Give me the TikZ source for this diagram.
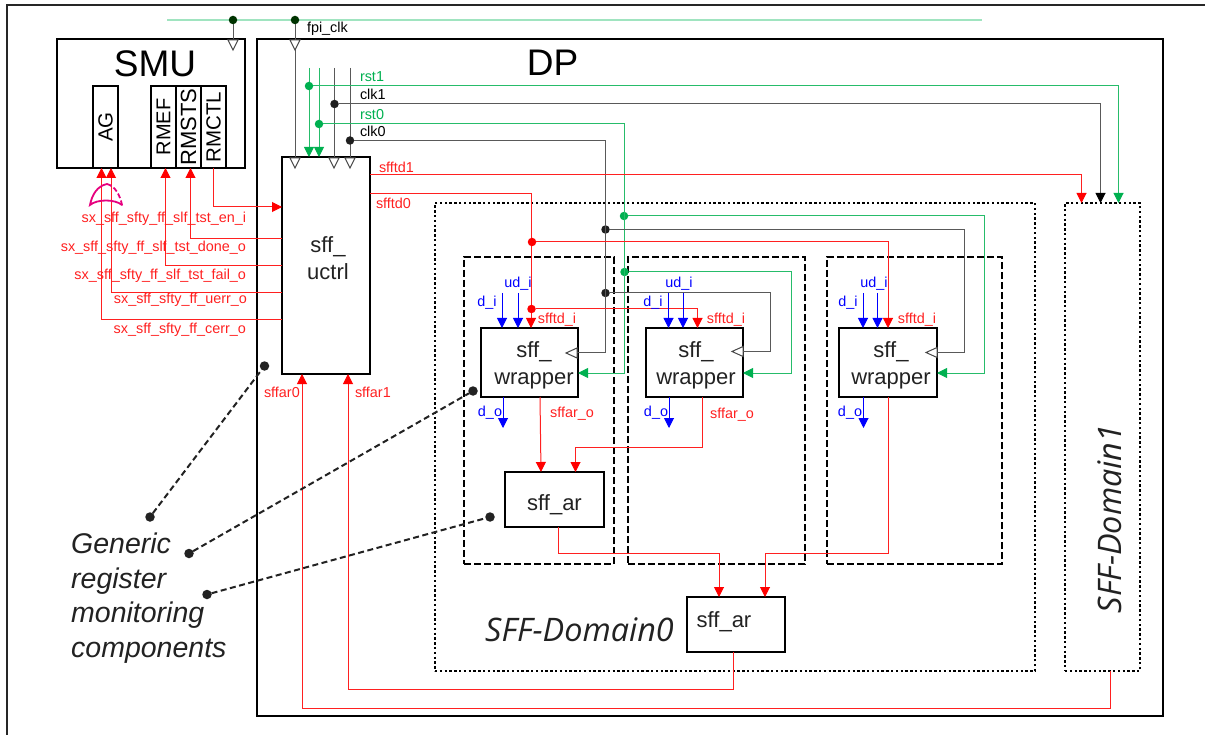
\documentclass[tikz,border=0pt]{standalone}
\usepackage{fontspec}
\setmainfont{Liberation Sans}
\newfontfamily\domfont{Open Sans}
\usetikzlibrary{arrows.meta,calc}
\definecolor{gsig}{HTML}{00B050}
\definecolor{rsig}{HTML}{FF2020}
\definecolor{bsig}{HTML}{0000FF}
\definecolor{fpigreen}{HTML}{A0E4C0}
\definecolor{ored}{HTML}{E6007E}
\definecolor{ink}{HTML}{222222}
\tikzset{
    blk/.style={draw=black,line width=2.5pt,inner sep=0pt,outer sep=0pt},
    sub/.style={draw=black,line width=1.6pt,inner sep=0pt,outer sep=0pt},
    domdot/.style={draw=black,line width=2.4pt,dash pattern=on 2.4pt off 2.4pt,outer sep=0pt},
    domdash/.style={draw=black,line width=2pt,dash pattern=on 7pt off 3pt,outer sep=0pt},
    txt/.style={inner sep=0pt,outer sep=0pt,font=\fontsize{14.4}{16}\selectfont},
    rtxt/.style={txt,text=rsig},
    btxt/.style={txt,text=bsig},
    gtxt/.style={txt,text=gsig},
    ktxt/.style={txt,text=black},
    bigtxt/.style={inner sep=0pt,outer sep=0pt,align=center,text=ink,font=\fontsize{22}{27}\selectfont},
    domtxt/.style={inner sep=0pt,outer sep=0pt,text=ink,font=\domfont\itshape\fontsize{32.4}{36}\selectfont},
    rln/.style={draw=rsig,line width=1pt},
    gln/.style={draw=gsig!85,line width=1pt},
    kln/.style={draw=black!65,line width=1pt},
    rarr/.style={rln,-{Triangle[length=10pt,width=10pt,color=red]}},
    garr/.style={gln,-{Triangle[length=10pt,width=10pt,color=gsig]}},
    karr/.style={kln,-{Triangle[length=10pt,width=10pt,color=black]}},
    barr/.style={draw=bsig,line width=1pt,-{Triangle[length=10pt,width=10pt]}},
    callout/.style={draw=ink,line width=2pt,dash pattern=on 6pt off 3.5pt},
    jn/.style={circle,inner sep=0pt,outer sep=0pt,minimum size=8.5pt},
    gdot/.style={jn,fill=gsig},
    kdot/.style={jn,fill=black!88},
    rdot/.style={jn,fill=red},
    cdot/.style={jn,minimum size=9.5pt,fill=ink},
    fpidot/.style={jn,fill=black!80!green},
    clkdown/.pic={\draw[draw=black!72,fill=white,line width=1pt] (-5,0) -- (5,0) -- (0,10) -- cycle;},
    clkleft/.pic={\draw[draw=black!72,fill=white,line width=1pt] (0,-5) -- (0,5) -- (-11,0) -- cycle;},
  }
\begin{document}
\begin{tikzpicture}[x=1pt,y=-1pt]
	\useasboundingbox (0,0) rectangle (1205,735);
	%frame
	\coordinate (fbl) at (7,735);
	\coordinate (ftl) at (7,5);
	\coordinate (ftr) at (1205,5);
	\draw[line width=1.6pt,black!85] (fbl) -- (ftl) -- (ftr);
	%blocks
	\node[blk,minimum width=188pt,minimum height=129pt] (smu) at (151,103.5) {};
	\node[blk,minimum width=906pt,minimum height=677pt] (dp) at (710,377.5) {};
	\node[sub,rotate=90,minimum width=82pt,minimum height=25pt,font=\fontsize{20.5}{22}\selectfont] (ag) at (105.5,127) {AG};
	\node[sub,rotate=90,minimum width=82pt,minimum height=25pt,font=\fontsize{20}{22}\selectfont] (rmef) at (163.5,127) {RMEF};
	\node[sub,rotate=90,minimum width=82pt,minimum height=25pt,font=\fontsize{22}{22}\selectfont] (rmsts) at (188.5,127) {RMSTS};
	\node[sub,rotate=90,minimum width=82pt,minimum height=25pt,font=\fontsize{20.5}{22}\selectfont] (rmctl) at (213.5,127) {RMCTL};
	\node[blk,minimum width=88pt,minimum height=217pt] (uctrl) at (326,265.5) {};
	\node[domdot,minimum width=600pt,minimum height=468pt] (dom0) at (735,437) {};
	\node[domdot,minimum width=75pt,minimum height=468pt] (dom1) at (1102.5,437) {};
	\node[domdash,minimum width=150pt,minimum height=307pt] (slice0) at (539,410.5) {};
	\node[domdash,minimum width=177pt,minimum height=307pt] (slice1) at (716.5,410.5) {};
	\node[domdash,minimum width=175pt,minimum height=307pt] (slice2) at (914.5,410.5) {};
	\node[blk,minimum width=97pt,minimum height=69pt] (wrap0) at (529.5,362.5) {};
	\node[blk,minimum width=97pt,minimum height=69pt] (wrap1) at (694.5,362.5) {};
	\node[blk,minimum width=98pt,minimum height=69pt] (wrap2) at (888,362.5) {};
	\node[blk,minimum width=99pt,minimum height=55pt] (ar0) at (554.5,499.5) {};
	\node[blk,minimum width=98pt,minimum height=55pt] (ar1) at (736,624.5) {};
	%block names
	\node[inner sep=0pt,text=black,font=\fontsize{37}{40}\selectfont] (smutxt) at (155,64) {SMU};
	\node[inner sep=0pt,text=black,font=\fontsize{37}{40}\selectfont] (dptxt) at (552.5,63) {DP};
	\node[bigtxt] (uctrltxt) at (328,258) {sff\_\\uctrl};
	\node[bigtxt] (wraptxt0) at (534,365) {sff\_\\wrapper};
	\node[bigtxt] (wraptxt1) at (696,365) {sff\_\\wrapper};
	\node[bigtxt] (wraptxt2) at (891,365) {sff\_\\wrapper};
	\node[bigtxt] (artxt0) at (554.5,505) {sff\_ar};
	\node[bigtxt] (artxt1) at (724,622) {sff\_ar};
	\node[domtxt] (domtxt0) at (579.5,629.7) {SFF-Domain0};
	\node[domtxt,rotate=90] (domtxt1) at (1110,519) {SFF-Domain1};
	\node[inner sep=0pt,text=ink,align=left,anchor=north west,font=\itshape\fontsize{28.5}{34.5}\selectfont] (generic) at (71,533) {Generic\\register\\monitoring\\components};
	%fpi clock
	\coordinate (fpil) at (167,20);
	\coordinate (fpir) at (982,20);
	\draw[draw=fpigreen,line width=2pt] (fpil) -- (fpir);
	\node[fpidot] (fpi0) at (233,20) {};
	\node[fpidot] (fpi1) at (295,20) {};
	\draw[kln] (fpi0) -- (fpi0 |- smu.north);
	\draw[kln] (fpi1) -- (fpi1 |- uctrl.north);
	\pic (tri0) at (233,40) {clkdown};
	\pic (tri1) at (295,40) {clkdown};
	\pic (tri2) at (295,158) {clkdown};
	\pic (tri3) at (334,158) {clkdown};
	\pic (tri4) at (350,158) {clkdown};
	\node[ktxt,anchor=west] (fpitxt) at (307,29) {fpi\_clk};
	%rst and clk
	\coordinate (rst1t) at (309,68);
	\coordinate (rst0t) at (319,68);
	\coordinate (clk1t) at (334,68);
	\coordinate (clk0t) at (350,68);
	\draw[garr] (rst1t) -- (rst1t |- uctrl.north);
	\draw[garr] (rst0t) -- (rst0t |- uctrl.north);
	\draw[kln] (clk1t) -- (clk1t |- uctrl.north);
	\draw[kln] (clk0t) -- (clk0t |- uctrl.north);
	\node[gdot] (rst1) at (309,86) {};
	\node[kdot] (clk1) at (334.5,104) {};
	\node[gdot] (rst0) at (319,124) {};
	\node[kdot] (clk0) at (350,140.5) {};
	\coordinate (rst1e) at (1118.5,203);
	\coordinate (clk1e) at (1100.5,203);
	\draw[garr] (rst1) -| (rst1e);
	\draw[karr] (clk1) -| (clk1e);
	\node[gtxt,anchor=west] (rst1txt) at (360,77) {rst1};
	\node[ktxt,anchor=west] (clk1txt) at (360,94) {clk1};
	\node[gtxt,anchor=west] (rst0txt) at (360,115) {rst0};
	\node[ktxt,anchor=west] (clk0txt) at (360,131) {clk0};
	%branches
	\node[kdot] (clk0a) at (605.5,229.5) {};
	\node[kdot] (clk0b) at (605.5,293) {};
	\node[gdot] (rst0a) at (624,216) {};
	\node[gdot] (rst0b) at (624.5,272) {};
	\coordinate (clk0w) at (577,353);
	\coordinate (rst0w) at (578,373);
	\draw[kln] (clk0) -| (605.5,353) -- (clk0w);
	\draw[garr] (rst0) -| (624.5,373) -- (rst0w);
	\draw[kln] (clk0a) -| (964,352.5) -- (wrap2.east |- 0,352.5);
	\draw[kln] (clk0b) -| (770.5,351.5) -- (wrap1.east |- 0,351.5);
	\draw[garr] (rst0a) -| (984,373) -- (wrap2.east |- 0,373);
	\draw[garr] (rst0b) -| (791,373) -- (wrap1.east |- 0,373);
	\pic (tri5) at (577,353) {clkleft};
	\pic (tri6) at (743,351.5) {clkleft};
	\pic (tri7) at (937,352.5) {clkleft};
	%sfftd
	\coordinate (td1s) at (370,174.5);
	\coordinate (td1e) at (1081.5,203);
	\coordinate (td0s) at (370,193.5);
	\coordinate (td0e) at (531,328);
	\draw[rarr] (td1s) -| (td1e);
	\draw[rarr] (td0s) -| (td0e);
	\node[rtxt,anchor=west] (td1txt) at (379,167) {sfftd1};
	\node[rtxt,anchor=west] (td0txt) at (376,203) {sfftd0};
	\node[rdot] (td0a) at (532,242) {};
	\node[rdot] (td0b) at (531.5,309) {};
	\coordinate (td0w2) at (888,328);
	\coordinate (td0w1) at (697.5,328);
	\draw[rarr] (td0a) -| (td0w2);
	\draw[rarr] (td0b) -| (td0w1);
	%data inputs
	\coordinate (di0) at (502,293);
	\coordinate (ud0) at (518,293);
	\coordinate (di1) at (668.5,293);
	\coordinate (ud1) at (683,293);
	\coordinate (di2) at (863,293);
	\coordinate (ud2) at (877.5,293);
	\draw[barr] (di0) -- (di0 |- wrap0.north);
	\draw[barr] (ud0) -- (ud0 |- wrap0.north);
	\draw[barr] (di1) -- (di1 |- wrap1.north);
	\draw[barr] (ud1) -- (ud1 |- wrap1.north);
	\draw[barr] (di2) -- (di2 |- wrap2.north);
	\draw[barr] (ud2) -- (ud2 |- wrap2.north);
	\coordinate (do0) at (503,428);
	\coordinate (do1) at (669,428);
	\coordinate (do2) at (863.5,428);
	\draw[barr] (do0 |- wrap0.south) -- (do0);
	\draw[barr] (do1 |- wrap1.south) -- (do1);
	\draw[barr] (do2 |- wrap2.south) -- (do2);
	\node[btxt] (ditxt0) at (487,302.5) {d\_i};
	\node[btxt] (udtxt0) at (518,284) {ud\_i};
	\node[rtxt] (tdtxt0) at (557,320) {sfftd\_i};
	\node[btxt] (dotxt0) at (490,413) {d\_o};
	\node[rtxt] (fotxt0) at (572,414) {sffar\_o};
	\node[btxt] (ditxt1) at (653,302.5) {d\_i};
	\node[btxt] (udtxt1) at (679,284) {ud\_i};
	\node[rtxt] (tdtxt1) at (726,320) {sfftd\_i};
	\node[btxt] (dotxt1) at (656,413) {d\_o};
	\node[rtxt] (fotxt1) at (732,415) {sffar\_o};
	\node[btxt] (ditxt2) at (848,302.5) {d\_i};
	\node[btxt] (udtxt2) at (874,284) {ud\_i};
	\node[rtxt] (tdtxt2) at (917,319.5) {sfftd\_i};
	\node[btxt] (dotxt2) at (850,413) {d\_o};
	%alarm tree
	\coordinate (fo0) at (540,397);
	\coordinate (fo1) at (702,397);
	\coordinate (ar0a) at (541,472);
	\coordinate (ar0b) at (575.5,472);
	\coordinate (ao0) at (558,527);
	\coordinate (ao2) at (888,397);
	\coordinate (ar1a) at (719,597);
	\coordinate (ar1b) at (765,597);
	\draw[rarr] (fo0) -- (ar0a);
	\draw[rarr] (fo1) |- (575.5,447) -- (ar0b);
	\draw[rarr] (ao0) |- (719,553) -- (ar1a);
	\draw[rarr] (ao2) |- (765,553) -- (ar1b);
	\coordinate (ao1) at (733,652);
	\coordinate (ar1u) at (348,374);
	\coordinate (dom1s) at (1110.5,671);
	\coordinate (ar0u) at (302,374);
	\draw[rarr] (ao1) |- (348,689) -- (ar1u);
	\draw[rarr] (dom1s) |- (302,708) -- (ar0u);
	\node[rtxt,anchor=west] (far0txt) at (264,392) {sffar0};
	\node[rtxt,anchor=west] (far1txt) at (355,392) {sffar1};
	%smu side
	\coordinate (ctls) at (213,168);
	\coordinate (ctle) at (282,207);
	\draw[rarr] (ctls) |- (ctle);
	\coordinate (dones) at (282,239);
	\coordinate (faild) at (282,266);
	\coordinate (uerrs) at (282,293);
	\coordinate (cerrs) at (282,320);
	\coordinate (donee) at (190.5,168);
	\coordinate (faile) at (165.5,168);
	\coordinate (uerre) at (111,168);
	\coordinate (cerre) at (101.5,168);
	\draw[rarr] (dones) -| (donee);
	\draw[rarr] (faild) -| (faile);
	\draw[rarr] (uerrs) -| (uerre);
	\draw[rarr] (cerrs) -| (cerre);
	\node[rtxt,anchor=east] (entxt) at (246,219) {sx\_sff\_sfty\_ff\_slf\_tst\_en\_i};
	\node[rtxt,anchor=east] (donetxt) at (246,248) {sx\_sff\_sfty\_ff\_slf\_tst\_done\_o};
	\node[rtxt,anchor=east] (failtxt) at (246,276) {sx\_sff\_sfty\_ff\_slf\_tst\_fail\_o};
	\node[rtxt,anchor=east] (uerrtxt) at (247,300) {sx\_sff\_sfty\_ff\_uerr\_o};
	\node[rtxt,anchor=east] (cerrtxt) at (246,330) {sx\_sff\_sfty\_ff\_cerr\_o};
	%or gate
	\draw[draw=ored,line width=1.8pt,line cap=round] (107,184) .. controls (97,186) and (92,195) .. (90,205) .. controls (97,199) and (115,199) .. (122,205);
	\draw[draw=ored,line width=1.8pt,dash pattern=on 5pt off 2.5pt] (107,184) .. controls (115,186) and (120,195) .. (122,205);
	%callouts
	\node[cdot] (mon0) at (150,517) {};
	\node[cdot] (mon1) at (189,553.5) {};
	\node[cdot] (mon2) at (207,594.5) {};
	\node[cdot] (tgt0) at (264.5,366) {};
	\node[cdot] (tgt1) at (473,391) {};
	\node[cdot] (tgt2) at (490,517) {};
	\draw[callout] (mon0) -- (tgt0);
	\draw[callout] (mon1) -- (tgt1);
	\draw[callout] (mon2) -- (tgt2);
\end{tikzpicture}
\end{document}
